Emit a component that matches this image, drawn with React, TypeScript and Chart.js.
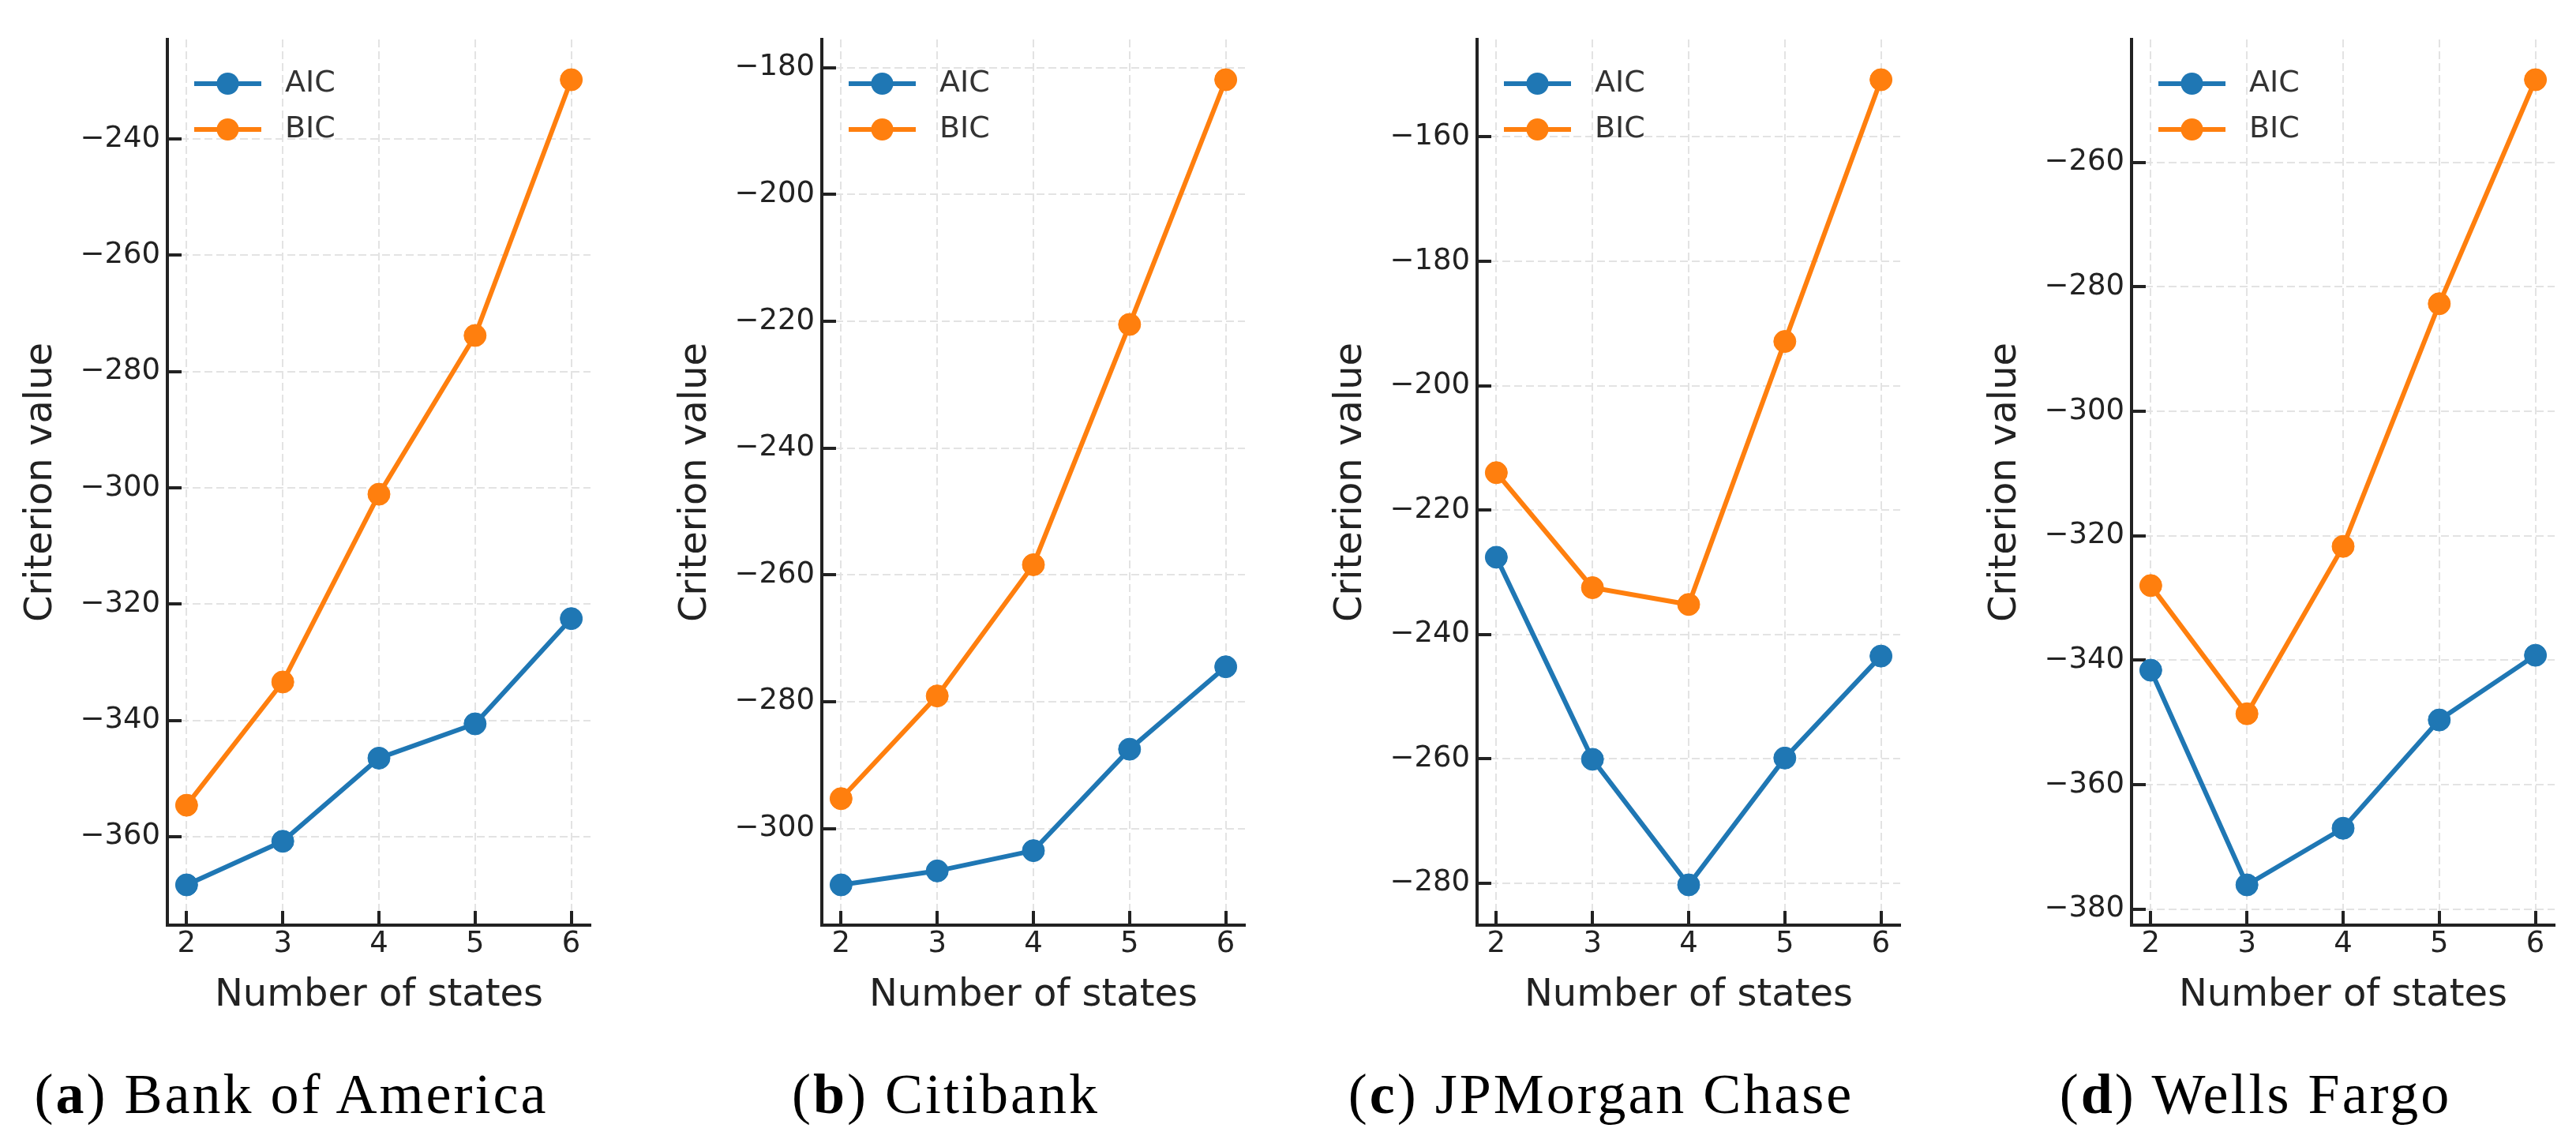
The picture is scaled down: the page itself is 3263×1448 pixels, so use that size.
import React, { useEffect, useRef } from 'react';
import { Chart, registerables } from 'chart.js';

Chart.register(...registerables);

// ---------- data ----------
const states = [2, 3, 4, 5, 6];

const aicBoA = [-368.3, -360.8, -346.5, -340.6, -322.5];
const bicBoA = [-354.6, -333.4, -301.1, -273.8, -229.8];

const aicCiti = [-308.9, -306.7, -303.5, -287.5, -274.5];
const bicCiti = [-295.3, -279.1, -258.4, -220.5, -181.9];

const aicJPM = [-227.6, -260.1, -280.3, -259.9, -243.5];
const bicJPM = [-214.0, -232.5, -235.2, -192.9, -150.8];

const aicWF = [-341.6, -376.1, -367.0, -349.6, -339.2];
const bicWF = [-328.0, -348.6, -321.7, -282.7, -246.7];

const yTicksBoA = [-360, -340, -320, -300, -280, -260, -240];
const yTicksCiti = [-300, -280, -260, -240, -220, -200, -180];
const yTicksJPM = [-280, -260, -240, -220, -200, -180, -160];
const yTicksWF = [-380, -360, -340, -320, -300, -280, -260];

const seriesNames = ['AIC', 'BIC'];
const panelLetters = ['a', 'b', 'c', 'd'];
const panelNames = ['Bank of America', 'Citibank', 'JPMorgan Chase', 'Wells Fargo'];
const xTitle = 'Number of states';
const yTitle = 'Criterion value';

// ---------- style ----------
const BLUE = '#1f77b4';
const ORANGE = '#ff7f0e';
const GRID = '#e3e3e3';
const AXIS = '#222222';
const FONT = 'DejaVu Sans';

const Y_AXIS_W = 200;
const X_AXIS_H = 128;
const PLOT_W = 536;
const PAD_TOP = 50;
const PAD_RIGHT = 20;
const CANVAS_H = 1300;

function legendSwatch(color: string): HTMLCanvasElement {
  const c = document.createElement('canvas');
  c.width = 110;
  c.height = 32;
  const g = c.getContext('2d')!;
  g.strokeStyle = color;
  g.lineWidth = 6;
  g.beginPath();
  g.moveTo(14, 16);
  g.lineTo(99, 16);
  g.stroke();
  g.fillStyle = color;
  g.beginPath();
  g.arc(56.5, 16, 14, 0, Math.PI * 2);
  g.fill();
  return c;
}

const fmtMinus = (v: number) => (v < 0 ? '\u2212' + Math.abs(v) : String(v));

type PanelProps = {
  spineX: number;
  letter: string;
  name: string;
  aic: number[];
  bic: number[];
  yTicks: number[];
};

function Panel({ spineX, letter, name, aic, bic, yTicks }: PanelProps) {
  const ref = useRef<HTMLCanvasElement>(null);

  useEffect(() => {
    const all = [...aic, ...bic];
    const lo = Math.min(...all);
    const hi = Math.max(...all);
    const my = (hi - lo) * 0.05;
    const xlo = Math.min(...states);
    const xhi = Math.max(...states);
    const mx = (xhi - xlo) * 0.05;
    const colors = [BLUE, ORANGE];
    const swatches = colors.map(legendSwatch);

    const mk = (label: string, vals: number[], color: string) => ({
      label,
      data: states.map((x, i) => ({ x, y: vals[i] })),
      borderColor: color,
      backgroundColor: color,
      borderWidth: 6,
      pointRadius: 14,
      pointHoverRadius: 14,
      pointBorderWidth: 1,
      pointBackgroundColor: color,
      pointBorderColor: color,
      tension: 0,
      fill: false,
    });

    const chart = new Chart(ref.current!, {
      type: 'line',
      data: {
        datasets: [mk(seriesNames[0], aic, BLUE), mk(seriesNames[1], bic, ORANGE)],
      },
      options: {
        animation: false,
        responsive: true,
        maintainAspectRatio: false,
        events: [],
        layout: { padding: { top: PAD_TOP, right: PAD_RIGHT, bottom: 0, left: 0 } },
        scales: {
          x: {
            type: 'linear',
            min: xlo - mx,
            max: xhi + mx,
            afterBuildTicks: (s: any) => {
              s.ticks = states.map((v) => ({ value: v }));
            },
            afterFit: (s: any) => {
              s.height = X_AXIS_H;
            },
            grid: {
              color: GRID,
              lineWidth: 2,
              drawTicks: true,
              tickLength: -18,
              tickColor: AXIS,
              tickWidth: 4,
            },
            border: { display: true, color: AXIS, width: 4, dash: [10, 5] },
            ticks: {
              padding: 20,
              color: AXIS,
              autoSkip: false,
              maxRotation: 0,
              font: { family: FONT, size: 37 },
              callback: (v: any) => String(v),
            },
            title: {
              display: true,
              text: xTitle,
              color: AXIS,
              font: { family: FONT, size: 48, lineHeight: 1.2 },
              padding: { top: 0, bottom: 10 },
            },
          },
          y: {
            type: 'linear',
            min: lo - my,
            max: hi + my,
            afterBuildTicks: (s: any) => {
              s.ticks = yTicks.map((v) => ({ value: v }));
            },
            afterFit: (s: any) => {
              s.width = Y_AXIS_W;
            },
            grid: {
              color: GRID,
              lineWidth: 2,
              drawTicks: true,
              tickLength: -18,
              tickColor: AXIS,
              tickWidth: 4,
            },
            border: { display: true, color: AXIS, width: 4, dash: [10, 5] },
            ticks: {
              padding: 27,
              color: AXIS,
              autoSkip: false,
              font: { family: FONT, size: 37 },
              callback: (v: any) => fmtMinus(Number(v)),
            },
            title: {
              display: true,
              text: yTitle,
              color: AXIS,
              font: { family: FONT, size: 48, lineHeight: 1.2 },
              padding: { top: 12, bottom: 0 },
            },
          },
        },
        plugins: {
          tooltip: { enabled: false },
          legend: {
            display: true,
            position: 'chartArea',
            align: 'start',
            title: {
              display: true,
              text: ' ',
              font: { size: 10, lineHeight: 1 },
              padding: { top: PAD_TOP + 7, bottom: 0 },
            },
            labels: {
              usePointStyle: true,
              pointStyleWidth: 110,
              padding: 20,
              color: '#333333',
              font: { family: FONT, size: 38 },
              generateLabels: (c: any) =>
                c.data.datasets.map((ds: any, i: number) => ({
                  text: ds.label,
                  pointStyle: swatches[i],
                  fillStyle: colors[i],
                  strokeStyle: colors[i],
                  lineWidth: 0,
                  hidden: false,
                  datasetIndex: i,
                  fontColor: '#333333',
                })),
            },
          },
        },
      } as any,
    });
    return () => chart.destroy();
  }, []);

  return (
    <>
      <div
        style={{
          position: 'absolute',
          left: spineX - Y_AXIS_W,
          top: 0,
          width: Y_AXIS_W + PLOT_W + PAD_RIGHT,
          height: CANVAS_H,
        }}
      >
        <canvas ref={ref} />
      </div>
      <div
        style={{
          position: 'absolute',
          left: spineX + 157 - 450,
          width: 900,
          top: 1350,
          textAlign: 'center',
          fontFamily: '"Liberation Serif", serif',
          fontSize: 72,
          lineHeight: '72px',
          letterSpacing: 3,
          whiteSpace: 'nowrap',
          color: '#000',
        }}
      >
        (<b>{letter}</b>) {name}
      </div>
    </>
  );
}

export default function App() {
  const spines = [212, 1041, 1871, 2700];
  const aics = [aicBoA, aicCiti, aicJPM, aicWF];
  const bics = [bicBoA, bicCiti, bicJPM, bicWF];
  const yts = [yTicksBoA, yTicksCiti, yTicksJPM, yTicksWF];
  return (
    <div
      style={{
        position: 'absolute',
        left: 0,
        top: 0,
        width: 3263,
        height: 1448,
        background: '#fff',
        overflow: 'hidden',
      }}
    >
      {spines.map((sx, i) => (
        <Panel
          key={i}
          spineX={sx}
          letter={panelLetters[i]}
          name={panelNames[i]}
          aic={aics[i]}
          bic={bics[i]}
          yTicks={yts[i]}
        />
      ))}
    </div>
  );
}
